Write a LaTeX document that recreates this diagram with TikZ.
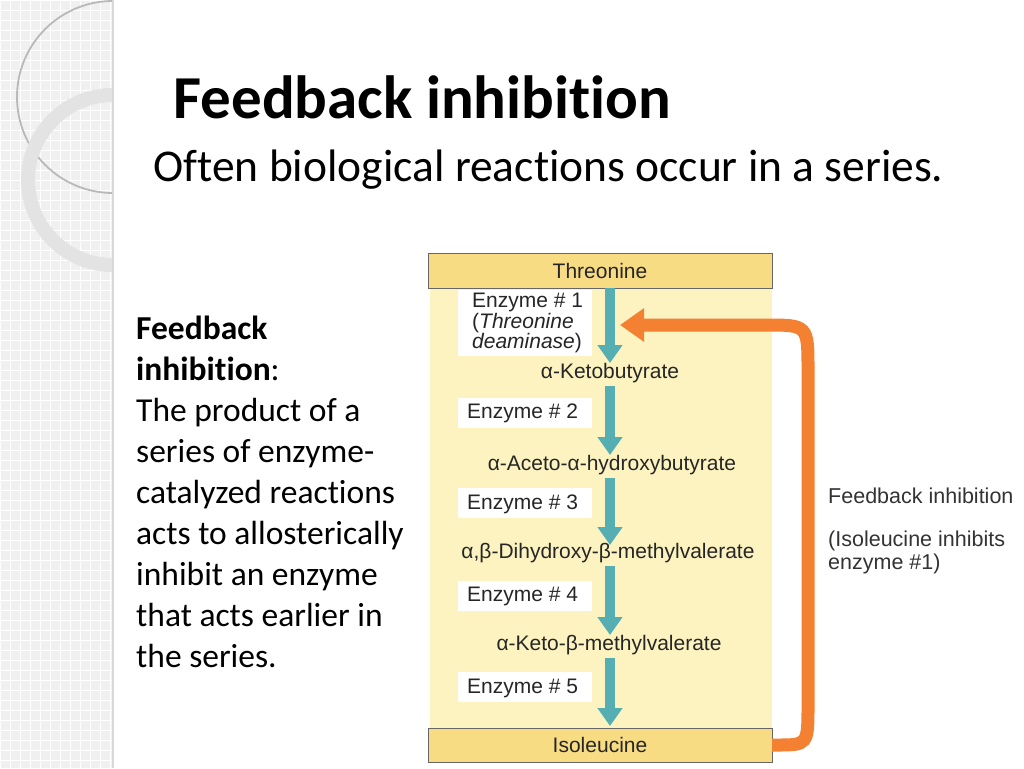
\documentclass[tikz,border=0pt]{standalone}
\usepackage{fontspec}
\setmainfont{Carlito}[Ligatures=NoCommon]
\newfontfamily\arial{Liberation Sans}
\usetikzlibrary{arrows.meta}
\definecolor{panel}{HTML}{FCF3C0}
\definecolor{boxy}{HTML}{F7DC84}
\definecolor{teal1}{HTML}{2A9A9E}
\definecolor{orng}{HTML}{F26A3A}
\begin{document}
\begin{tikzpicture}[x=1pt,y=-1pt,
  met/.style={font=\arial\fontsize{21}{22}\selectfont,inner sep=1pt,text=black!85},
  enz/.style={font=\arial\fontsize{21}{20.5}\selectfont,fill=white,inner sep=0pt,anchor=west,align=left,text=black!85},
  flow/.style={-{Triangle[width=24pt,length=18pt]},line width=10pt,teal1!80}]
\useasboundingbox (0,0) rectangle (1024,768);
\fill[white] (0,0) rectangle (1024,768);
% sidebar
\fill[gray!12] (0,0) rectangle (113,768);
\begin{scope}
\clip (0,0) rectangle (113,768);
\foreach \i in {0,10,...,110} \draw[white,line width=0.6pt] (\i,0) -- (\i,768);
\foreach \j in {0,10,...,760} \draw[white,line width=0.6pt] (0,\j) -- (113,\j);
\draw[gray!55,line width=1.8pt] (113,97) circle (96);
\draw[gray!22,line width=14pt] (113,180) circle (85);
\end{scope}
\fill[gray!30] (112,0) rectangle (114,768);
% titles
\node[anchor=west,font=\bfseries\fontsize{61}{70}\selectfont] (title) at (170,97) {Feedback inhibition};
\node[anchor=west,font=\fontsize{45.5}{52}\selectfont] (sub) at (150,170) {Often biological reactions occur in a series.};
\node[anchor=north west,align=left,font=\fontsize{33.5}{41}\selectfont,inner sep=0pt] (txt) at (136,316)
 {\textbf{Feedback}\\\textbf{inhibition}:\\The product of a\\series of enzyme-\\catalyzed reactions\\acts to allosterically\\inhibit an enzyme\\that acts earlier in\\the series.};
% panel
\fill[panel] (430,288) rectangle (772,728);
\node[draw=black!60,fill=boxy,minimum width=344pt,minimum height=35pt,inner sep=0pt,font=\arial\fontsize{21}{22}\selectfont,text=black!85] (thr) at (600,270.5) {Threonine};
\node[draw=black!60,fill=boxy,minimum width=344pt,minimum height=34pt,inner sep=0pt,font=\arial\fontsize{21}{22}\selectfont,text=black!85] (iso) at (600,745) {Isoleucine};
\fill[white] (458,290) rectangle (592,356);
\fill[white] (458,398) rectangle (592,428);
\fill[white] (458,488) rectangle (592,518);
\fill[white] (458,581) rectangle (592,611);
\fill[white] (458,672) rectangle (592,702);
\node[enz] (e1) at (472,323) {Enzyme \# 1\\(\textit{Threonine}\\\textit{deaminase})};
\node[enz] (e2) at (467,413) {Enzyme \# 2};
\node[enz] (e3) at (467,504) {Enzyme \# 3};
\node[enz] (e4) at (467,596) {Enzyme \# 4};
\node[enz] (e5) at (467,688) {Enzyme \# 5};
\node[met] (m1) at (610,373) {α-Ketobutyrate};
\node[met] (m2) at (612,465) {α-Aceto-α-hydroxybutyrate};
\node[met] (m3) at (608,553) {α,β-Dihydroxy-β-methylvalerate};
\node[met] (m4) at (609,645) {α-Keto-β-methylvalerate};
\coordinate (a0) at (610,288);
\draw[flow] (a0) -- (610,363);
\draw[flow] (610,386) -- (610,455);
\draw[flow] (610,478) -- (610,545);
\draw[flow] (610,566) -- (610,635);
\draw[flow] (610,658) -- (610,726);
% feedback arrow
\coordinate (fb0) at (772,745);
\coordinate (fb1) at (620,325);
\draw[orng!85!yellow,line width=13pt,-{Triangle[width=32pt,length=24pt]}]
  (fb0) -- (776,745) .. controls (808,745) .. (808,705) -- (808,370) .. controls (808,325) .. (765,325) -- (fb1);
\node[anchor=west,font=\arial\fontsize{21.5}{24}\selectfont,inner sep=0pt,text=black!80] (fbt) at (828,496) {Feedback inhibition};
\node[anchor=north west,align=left,font=\arial\fontsize{21.5}{23}\selectfont,inner sep=0pt,text=black!80] (fbt2) at (828,531) {(Isoleucine inhibits\\enzyme \#1)};
\end{tikzpicture}
\end{document}
